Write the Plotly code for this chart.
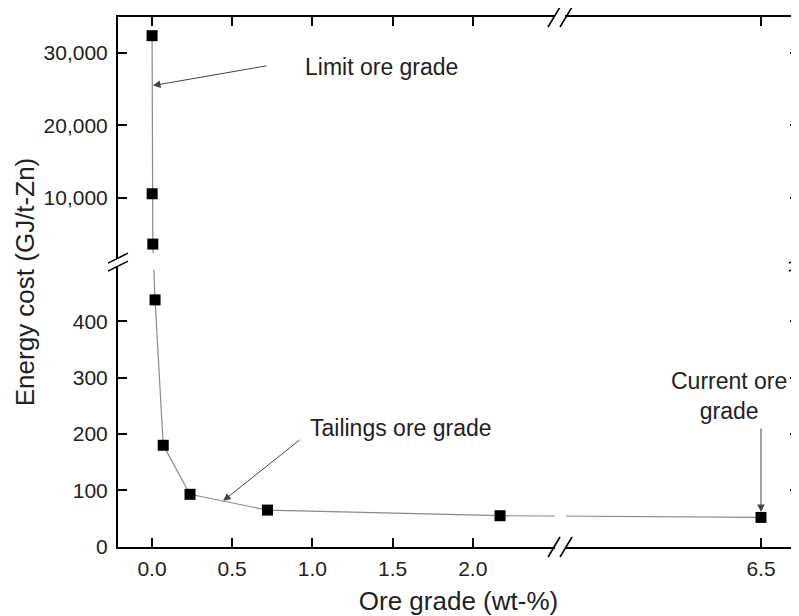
import plotly.graph_objects as go

# ---------------- data ----------------
ore_grade = [0.0005, 0.001, 0.005, 0.019, 0.07, 0.237, 0.72, 2.17, 6.5]
energy_cost = [32400, 10550, 3600, 438, 180, 93, 65, 55, 52]

x_tick_values = [0.0, 0.5, 1.0, 1.5, 2.0, 6.5]
x_tick_labels = ["0.0", "0.5", "1.0", "1.5", "2.0", "6.5"]
y_tick_values = [0, 100, 200, 300, 400, 10000, 20000, 30000]
y_tick_labels = ["0", "100", "200", "300", "400", "10,000", "20,000", "30,000"]

# ---------------- broken-axis mapping ----------------
X_MIN, X_MAX = -0.212, 4.034      # displayed (mapped) x range
X_BREAK = 2.544                   # end of the left x segment
X_SHIFT = 2.703                   # right segment starts at X_BREAK + X_SHIFT
Y_MIN, Y_MAX = -0.5, 940.0        # displayed (mapped) y range
Y_BREAK = 505.0                   # end of the lower y segment
Y_RESUME = 1100.0                 # start of the upper y segment
Y_SCALE = 0.01284                 # upper segment compression


def fx(v):
    return v if v <= X_BREAK else v - X_SHIFT


def fy(v):
    return v if v <= Y_BREAK else Y_BREAK + (v - Y_RESUME) * Y_SCALE


# the page body has an 8px margin; size the figure so it fills the window
PAGE_OFF = 8
W, H = 799 - PAGE_OFF, 616 - PAGE_OFF
ML, MR, MT, MB = 118 - PAGE_OFF, 0, 17 - PAGE_OFF, 69
PW, PH = W - ML - MR, H - MT - MB

FONT = "Arial, Liberation Sans, sans-serif"


def px_x(v):  # mapped x -> window pixel
    return PAGE_OFF + ML + (v - X_MIN) / (X_MAX - X_MIN) * PW


def px_y(v):  # mapped y -> window pixel
    return PAGE_OFF + MT + PH - (v - Y_MIN) / (Y_MAX - Y_MIN) * PH


def paper_x(p):
    return (p - PAGE_OFF - ML) / PW


def paper_y(p):
    return (PAGE_OFF + MT + PH - p) / PH


fig = go.Figure()
fig.add_trace(go.Scatter(
    x=[fx(v) for v in ore_grade],
    y=[fy(v) for v in energy_cost],
    mode="lines+markers",
    line=dict(color="#8a8a8a", width=1.2),
    marker=dict(symbol="square", size=11, color="black"),
    showlegend=False,
    cliponaxis=False,
))

axis_common = dict(
    showline=True, linecolor="black", linewidth=2,
    mirror="ticks", ticks="inside", ticklen=9, tickwidth=1.5, tickcolor="black",
    showgrid=False, zeroline=False, automargin=False,
    tickfont=dict(family=FONT, size=21, color="#222"),
    title_font=dict(family=FONT, size=26, color="#222"),
)

fig.update_xaxes(
    range=[X_MIN, X_MAX],
    tickmode="array",
    tickvals=[fx(v) for v in x_tick_values],
    ticktext=x_tick_labels,
    title_text="Ore grade (wt-%)",
    title_standoff=13,
    ticklabelstandoff=2,
    **axis_common,
)
fig.update_yaxes(
    range=[Y_MIN, Y_MAX],
    tickmode="array",
    tickvals=[fy(v) for v in y_tick_values],
    ticktext=y_tick_labels,
    title_text="Energy cost (GJ/t-Zn)",
    title_standoff=1,
    ticklabelstandoff=4,
    **axis_common,
)

shapes = []
# gaps in the data line at the breaks
xb = px_x(X_BREAK)
yb = px_y(Y_BREAK)
line_y_at_break = px_y(fy(54))
shapes.append(dict(type="rect", xref="paper", yref="paper",
                   x0=paper_x(xb - 5), x1=paper_x(xb + 6),
                   y0=paper_y(line_y_at_break + 8), y1=paper_y(line_y_at_break - 8),
                   fillcolor="white", line=dict(width=0), layer="above"))
x_line_at_ybreak = px_x(fx(0.01))
shapes.append(dict(type="rect", xref="paper", yref="paper",
                   x0=paper_x(x_line_at_ybreak - 10), x1=paper_x(x_line_at_ybreak + 10),
                   y0=paper_y(yb + 8), y1=paper_y(yb - 9),
                   fillcolor="white", line=dict(width=0), layer="above"))

# axis-break marks "//" on bottom and top x axes
for yaxis_px in (px_y(Y_MIN), px_y(Y_MAX)):
    shapes.append(dict(type="rect", xref="paper", yref="paper",
                       x0=paper_x(xb - 5), x1=paper_x(xb + 5),
                       y0=paper_y(yaxis_px + 3), y1=paper_y(yaxis_px - 3),
                       fillcolor="white", line=dict(width=0), layer="above"))
    for off in (-6, 6):
        shapes.append(dict(type="line", xref="paper", yref="paper",
                           x0=paper_x(xb + off - 6), y0=paper_y(yaxis_px + 10),
                           x1=paper_x(xb + off + 6), y1=paper_y(yaxis_px - 10),
                           line=dict(color="black", width=1.6), layer="above"))

# axis-break marks on left and right y axes
for xaxis_px in (px_x(X_MIN), px_x(X_MAX)):
    shapes.append(dict(type="rect", xref="paper", yref="paper",
                       x0=paper_x(xaxis_px - 3), x1=paper_x(xaxis_px + 3),
                       y0=paper_y(yb + 4), y1=paper_y(yb - 4),
                       fillcolor="white", line=dict(width=0), layer="above"))
    for off in (-4, 4):
        shapes.append(dict(type="line", xref="paper", yref="paper",
                           x0=paper_x(xaxis_px - 10), y0=paper_y(yb + off + 5),
                           x1=paper_x(xaxis_px + 10), y1=paper_y(yb + off - 5),
                           line=dict(color="black", width=1.6), layer="above"))

ann_font = dict(family=FONT, size=23, color="#222")
annotations = [
    dict(x=fx(0.94), y=fy(28000), text="Limit ore grade", showarrow=False,
         xanchor="left", yanchor="middle", font=ann_font),
    dict(x=fx(0.97), y=fy(211), text="Tailings ore grade", showarrow=False,
         xanchor="left", yanchor="middle", font=ann_font),
    dict(x=fx(6.30), y=fy(267), text="Current ore<br>grade", showarrow=False,
         xanchor="center", yanchor="middle", font=ann_font),
]
arrow_style = dict(text="", showarrow=True, arrowhead=2, arrowsize=1.5,
                   arrowwidth=1, arrowcolor="#444", standoff=0)
annotations += [
    dict(x=fx(0.006), y=fy(25500), ax=115, ay=-20, **arrow_style),
    dict(x=fx(0.444), y=fy(81.6), ax=78, ay=-62, **arrow_style),
    dict(x=fx(6.5), y=fy(61.6), ax=0, ay=-85, **arrow_style),
]

fig.update_layout(
    width=W, height=H,
    margin=dict(l=ML, r=MR, t=MT, b=MB),
    paper_bgcolor="white", plot_bgcolor="white",
    shapes=shapes, annotations=annotations,
    font=dict(family=FONT),
)

fig.write_html("out.html")
